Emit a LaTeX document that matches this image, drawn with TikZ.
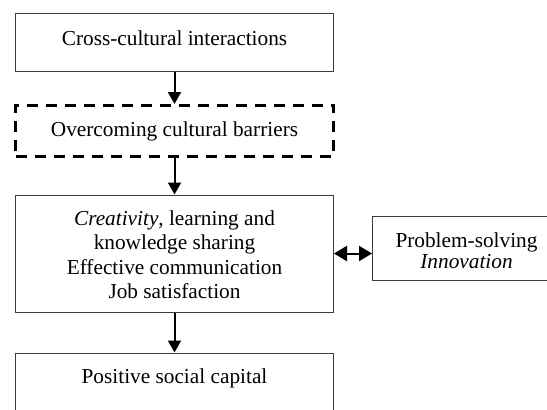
\documentclass[tikz,border=0pt]{standalone}
\usepackage{fontspec}
\setmainfont{Liberation Serif}
\usepackage{tikz}
\usetikzlibrary{positioning,arrows.meta}
\definecolor{fc-edge}{RGB}{60, 60, 60}

\begin{document}
\begin{tikzpicture}[font=\fontsize{21.3}{24.5}\selectfont,
    box/.style={rectangle, draw=fc-edge, line width=1pt, inner sep=0pt, minimum width=318pt, align=center},
    dashbox/.style={box, draw=black, line width=2.5pt, dash pattern=on 11pt off 8pt},
    flow/.style={-{Triangle[length=12pt,width=13pt]}, line width=2pt},
    twoway/.style={{Triangle[length=13pt,width=15pt]}-{Triangle[length=13pt,width=15pt]}, line width=2pt}]
    \useasboundingbox (0,0) rectangle (547pt,-410pt);

    \node[box, anchor=north west, text height=32pt, text depth=26pt] (cross) at (15pt,-13pt) {Cross-cultural interactions};
    \node[dashbox, below=32pt of cross, text height=31pt, text depth=20pt] (barr) {Overcoming cultural barriers};
    \node[box, below=37pt of barr, text height=103.5pt, text depth=13.5pt] (cre) {\textit{Creativity}, learning and\\knowledge sharing\\Effective communication\\Job satisfaction};
    \node[box, below=40pt of cre, text height=30pt, text depth=28pt] (pos) {Positive social capital};
    \node[box, right=38pt of cre, yshift=5.5pt, minimum width=188pt, text height=52pt, text depth=12pt] (prob) {Problem-solving\\[-3.5pt]\textit{Innovation}};

    \draw[flow] (cross) -- (barr);
    \draw[flow] (barr) -- (cre);
    \draw[flow] (cre) -- (pos);
    \draw[twoway] (cre.east) -- (cre.east -| prob.west);
\end{tikzpicture}
\end{document}
